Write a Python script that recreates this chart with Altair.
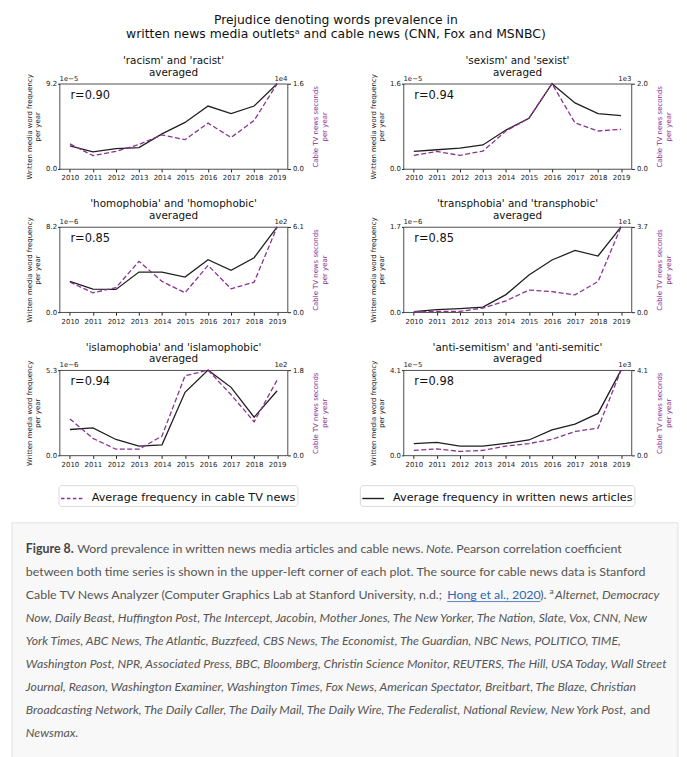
import altair as alt
import pandas as pd

FONT = "DejaVu Sans"
CAP_FONT = "Lato"
BLACK = "#1f1f1f"
PURPLE = "#8b3193"
W, H = 230, 86
HANG = 48  # space left of each plot (axis titles / card edge)

WRITTEN_LABEL = "Average frequency in written news articles"
CABLE_LABEL = "Average frequency in cable TV news"

years = list(range(2010, 2020))

panel_titles = [
    ["'racism' and 'racist'", "averaged"],
    ["'sexism' and 'sexist'", "averaged"],
    ["'homophobia' and 'homophobic'", "averaged"],
    ["'transphobia' and 'transphobic'", "averaged"],
    ["'islamophobia' and 'islamophobic'", "averaged"],
    ["'anti-semitism' and 'anti-semitic'", "averaged"],
]
r_values = ["r=0.90", "r=0.94", "r=0.85", "r=0.85", "r=0.94", "r=0.98"]
left_exponents = ["1e\u22125", "1e\u22125", "1e\u22126", "1e\u22126", "1e\u22126", "1e\u22125"]
right_exponents = ["1e4", "1e3", "1e2", "1e1", "1e2", "1e3"]

written_racism = [2.48, 1.84, 2.19, 2.30, 3.79, 5.02, 6.79, 5.98, 6.79, 9.2]
cable_racism = [0.47, 0.25, 0.33, 0.46, 0.64, 0.55, 0.86, 0.59, 0.91, 1.6]
written_sexism = [0.33, 0.36, 0.39, 0.45, 0.73, 0.95, 1.6, 1.24, 1.04, 1.0]
cable_sexism = [0.32, 0.41, 0.32, 0.42, 0.89, 1.19, 2.0, 1.08, 0.89, 0.93]
written_homophobia = [2.96, 2.22, 2.19, 3.86, 3.86, 3.38, 5.05, 4.02, 5.24, 8.2]
cable_homophobia = [2.15, 1.39, 1.75, 3.64, 2.2, 1.39, 3.35, 1.67, 2.15, 6.1]
written_transphobia = [0.01, 0.05, 0.07, 0.10, 0.35, 0.74, 1.04, 1.23, 1.12, 1.7]
cable_transphobia = [0.02, 0.03, 0.03, 0.18, 0.49, 0.96, 0.89, 0.75, 1.33, 3.7]
written_islamophobia = [1.61, 1.71, 0.99, 0.58, 0.66, 3.92, 5.3, 4.23, 2.37, 4.02]
cable_islamophobia = [0.77, 0.36, 0.13, 0.13, 0.41, 1.68, 1.8, 1.28, 0.71, 1.59]
written_antisemitism = [0.57, 0.63, 0.45, 0.45, 0.58, 0.74, 1.23, 1.50, 2.02, 4.1]
cable_antisemitism = [0.24, 0.31, 0.19, 0.24, 0.45, 0.57, 0.77, 1.15, 1.31, 4.1]

written_series = [written_racism, written_sexism, written_homophobia,
                  written_transphobia, written_islamophobia, written_antisemitism]
cable_series = [cable_racism, cable_sexism, cable_homophobia,
                cable_transphobia, cable_islamophobia, cable_antisemitism]

fig_title = ["Prejudice denoting words prevalence in",
             "written news media outlets\u1d43 and cable news (CNN, Fox and MSNBC)"]

caption_lines = [
    [("Figure 8. ", "bold"), ("Word prevalence in written news media articles and cable news. ", "normal"),
     ("Note. ", "italic"), ("Pearson correlation coefficient", "normal")],
    [("between both time series is shown in the upper-left corner of each plot. The source for cable news data is Stanford", "normal")],
    [("Cable TV News Analyzer (Computer Graphics Lab at Stanford University, n.d.; ", "normal"),
     ("Hong et al., 2020", "link"), ("). ", "normal"), ("a ", "sup"), ("Alternet, Democracy", "italic")],
    [("Now, Daily Beast, Huffington Post, The Intercept, Jacobin, Mother Jones, The New Yorker, The Nation, Slate, Vox, CNN, New", "italic")],
    [("York Times, ABC News, The Atlantic, Buzzfeed, CBS News, The Economist, The Guardian, NBC News, POLITICO, TIME,", "italic")],
    [("Washington Post, NPR, Associated Press, BBC, Bloomberg, Christin Science Monitor, REUTERS, The Hill, USA Today, Wall Street", "italic")],
    [("Journal, Reason, Washington Examiner, Washington Times, Fox News, American Spectator, Breitbart, The Blaze, Christian", "italic")],
    [("Broadcasting Network, The Daily Caller, The Daily Mail, The Daily Wire, The Federalist, National Review, New York Post, ", "italic"),
     ("and", "normal")],
    [("Newsmax.", "italic")],
]

# approximate glyph advance widths (em) for laying out caption segments
_w = {' ': 0.193, 'a': 0.494, 'b': 0.556, 'c': 0.455, 'd': 0.556, 'e': 0.512, 'f': 0.316, 'g': 0.498,
      'h': 0.556, 'i': 0.236, 'j': 0.236, 'k': 0.493, 'l': 0.236, 'm': 0.833, 'n': 0.556, 'o': 0.553,
      'p': 0.550, 'q': 0.556, 'r': 0.361, 's': 0.420, 't': 0.336, 'u': 0.556, 'v': 0.490, 'w': 0.752,
      'x': 0.477, 'y': 0.490, 'z': 0.440, 'A': 0.680, 'B': 0.625, 'C': 0.665, 'D': 0.735, 'E': 0.545,
      'F': 0.530, 'G': 0.705, 'H': 0.745, 'I': 0.278, 'J': 0.390, 'K': 0.635, 'L': 0.490, 'M': 0.910,
      'N': 0.745, 'O': 0.800, 'P': 0.590, 'Q': 0.800, 'R': 0.615, 'S': 0.500, 'T': 0.560, 'U': 0.720,
      'V': 0.660, 'W': 1.000, 'X': 0.640, 'Y': 0.620, 'Z': 0.600, '.': 0.216, ',': 0.216, ';': 0.240,
      ':': 0.240, '(': 0.310, ')': 0.310, '-': 0.340, "'": 0.200}
STYLE_SIZE = {"normal": 12.5, "bold": 12.5, "italic": 12.35, "link": 12.5, "sup": 8.5}
_factor = {"normal": 1.035, "bold": 1.07, "italic": 0.972, "link": 1.035, "sup": 0.95}


def text_width(s, style):
    return sum(_w.get(ch, 0.58) for ch in s) * STYLE_SIZE[style] * _factor[style]


cap_rows = []
for li, segs in enumerate(caption_lines):
    px = 14.0 - HANG
    for text, style in segs:
        shown = text.rstrip()
        cap_rows.append({"line": li, "px": px, "px_end": px + text_width(shown, style),
                         "t": shown, "style": style})
        px += text_width(text, style)
cap_df = pd.DataFrame(cap_rows)

legend_common = dict(title=None, orient="none", symbolType="stroke", symbolSize=484,
                     symbolStrokeWidth=1.4, labelFont=FONT, labelFontSize=11.3, labelColor="#111",
                     labelLimit=400, padding=1.5, strokeColor="#d9d9d9", fillColor="white",
                     cornerRadius=3, labelOffset=8)
LEG_Y = 405


def make_panel(k):
    written = written_series[k]
    cable = cable_series[k]
    wmax, cmax = max(written), max(cable)
    df = pd.DataFrame({"year": years, "written": written, "cable": cable,
                       "wlab": [WRITTEN_LABEL] * len(years), "clab": [CABLE_LABEL] * len(years)})
    xenc = alt.X("year:Q", scale=alt.Scale(domain=[2009.55, 2019.45], nice=False, zero=False),
                 axis=alt.Axis(values=years, format="d", title=None, labelOverlap=False,
                               labelFlush=False, labelFont=FONT, labelFontSize=7, labelColor="#222",
                               tickSize=3, tickColor="#222", labelPadding=2, domain=False, grid=False))
    black = alt.Chart(df).mark_line(strokeWidth=1.3).encode(
        x=xenc,
        y=alt.Y("written:Q", scale=alt.Scale(domain=[0, wmax], nice=False, zero=True),
                axis=alt.Axis(values=[0, wmax], format=".1f", orient="left",
                              title=["Written media word frequency", "per year"],
                              titleFont=FONT, titleFontSize=7, titleFontWeight="normal",
                              titleColor="#222", titleLineHeight=8.5, titlePadding=5,
                              labelFont=FONT, labelFontSize=7, labelColor="#222", labelPadding=1,
                              tickSize=2, tickColor="#222", domain=False, grid=False)),
        stroke=alt.Stroke("wlab:N", scale=alt.Scale(domain=[WRITTEN_LABEL], range=[BLACK]),
                          legend=alt.Legend(legendX=303, legendY=LEG_Y, **legend_common)),
    )
    purple = alt.Chart(df).mark_line(strokeWidth=1.3, strokeDash=[5, 2.5]).encode(
        x=xenc,
        y=alt.Y("cable:Q", scale=alt.Scale(domain=[0, cmax], nice=False, zero=True),
                axis=alt.Axis(values=[0, cmax], format=".1f", orient="right",
                              title=["Cable TV news seconds", "per year"],
                              titleAngle=270, titleBaseline="top",
                              titleFont=FONT, titleFontSize=7, titleFontWeight="normal",
                              titleColor=PURPLE, titleLineHeight=8.5, titlePadding=0,
                              labelFont=FONT, labelFontSize=7, labelColor="#222", labelPadding=2,
                              tickSize=3, tickColor="#222", domain=False, grid=False)),
        color=alt.Color("clab:N", scale=alt.Scale(domain=[CABLE_LABEL], range=[PURPLE]),
                        legend=alt.Legend(legendX=-1, legendY=LEG_Y, symbolDash=[3.5, 2.5],
                                          **legend_common)),
    )
    ann = pd.DataFrame({"t": [r_values[k]], "le": [left_exponents[k]], "re": [right_exponents[k]]})
    rtxt = alt.Chart(ann).mark_text(align="left", baseline="middle", font=FONT, fontSize=11.5,
                                    color="#111").encode(x=alt.value(11), y=alt.value(12), text="t:N")
    ltxt = alt.Chart(ann).mark_text(align="left", baseline="alphabetic", font=FONT, fontSize=7,
                                    color="#222").encode(x=alt.value(0), y=alt.value(-3), text="le:N")
    retxt = alt.Chart(ann).mark_text(align="right", baseline="alphabetic", font=FONT, fontSize=7,
                                     color="#222").encode(x=alt.value(W), y=alt.value(-3), text="re:N")
    bl = alt.Chart(ann).mark_rule(color="white", strokeWidth=1).encode(
        x=alt.value(-HANG), x2=alt.value(-HANG + 1), y=alt.value(0), y2=alt.value(1))
    br = alt.Chart(ann).mark_rule(color="white", strokeWidth=1).encode(
        x=alt.value(W + 44), x2=alt.value(W + 45), y=alt.value(0), y2=alt.value(1))
    return alt.layer(black, purple, rtxt, ltxt, retxt, bl, br).resolve_scale(
        y="independent"
    ).properties(
        width=W, height=H,
        title=alt.TitleParams(panel_titles[k], font=FONT, fontSize=10.5, fontWeight="normal",
                              color="#111", lineHeight=12, offset=-5, frame="group", anchor="middle"),
    )


rows = [alt.hconcat(make_panel(2 * i), make_panel(2 * i + 1), spacing=22) for i in range(3)]
grid = alt.vconcat(*rows, spacing=16.5)

yscale = alt.Scale(domain=[0, 8], range=[26, 212])
cap_base = alt.Chart(cap_df)


def cap_layer(style, **kw):
    props = dict(align="left", baseline="middle", font=CAP_FONT, fontSize=STYLE_SIZE[style],
                 color="#555")
    props.update(kw)
    return cap_base.transform_filter(alt.datum.style == style).mark_text(**props).encode(
        x=alt.X("px:Q", scale=None, axis=None),
        y=alt.Y("line:Q", scale=yscale, axis=None),
        text="t:N",
    )


underline = cap_base.transform_filter(alt.datum.style == "link").mark_rule(
    color="#2b67b3", strokeWidth=0.8, yOffset=7).encode(
    x=alt.X("px:Q", scale=None, axis=None), x2="px_end:Q",
    y=alt.Y("line:Q", scale=yscale, axis=None))

cap_box = alt.Chart(pd.DataFrame({"a": [0]})).mark_rect(
    fill="#f8f8f8", stroke="#e2e2e2", strokeWidth=1).encode(
    x=alt.value(-HANG), x2=alt.value(672 - HANG), y=alt.value(0), y2=alt.value(240))

caption = alt.layer(
    cap_box,
    cap_layer("normal"),
    cap_layer("bold", fontWeight="bold", color="#444"),
    cap_layer("italic", fontStyle="italic"),
    cap_layer("link", color="#2b67b3"),
    cap_layer("sup", dy=-4),
    underline,
).properties(width=560, height=235,
             view=alt.ViewBackground(fill=None, stroke=None))

chart = alt.vconcat(grid, caption, spacing=54).properties(
    title=alt.TitleParams(fig_title, font=FONT, fontSize=12.5, fontWeight="normal", color="#111",
                          lineHeight=15, anchor="middle", offset=15, dx=-9),
    padding={"left": 3, "top": 2, "right": 0, "bottom": 0},
    background="white",
).configure_view(stroke=BLACK, strokeWidth=0.8)

chart.save("out.html", embed_options={"renderer": "svg", "actions": False})
